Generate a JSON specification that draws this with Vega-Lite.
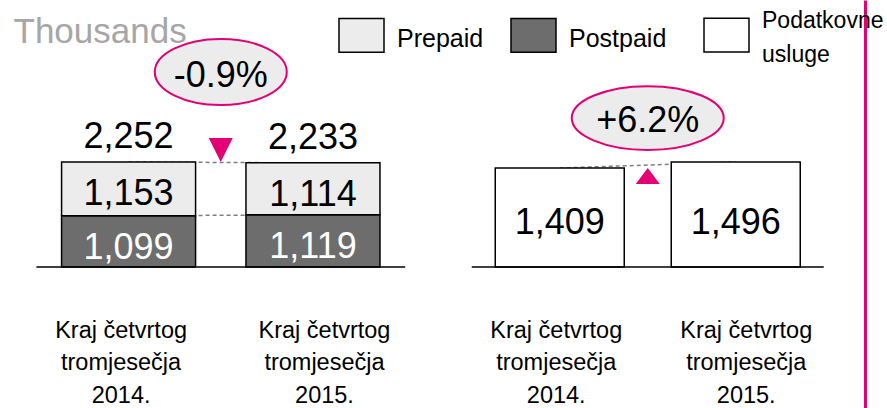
{
  "$schema": "https://vega.github.io/schema/vega-lite/v6.json",
  "width": 887,
  "height": 408,
  "autosize": {"type": "none"},
  "padding": 0,
  "background": "white",
  "config": {"view": {"stroke": null}, "font": "Liberation Sans"},
  "datasets": {
    "subs": [
      {"year": 2014, "type": "Postpaid", "value": 1099},
      {"year": 2014, "type": "Prepaid", "value": 1153},
      {"year": 2015, "type": "Postpaid", "value": 1119},
      {"year": 2015, "type": "Prepaid", "value": 1114}
    ],
    "subsTotal": [
      {"year": 2014, "total": 2252},
      {"year": 2015, "total": 2233}
    ],
    "subsChange": [
      {"year": 2014.5, "from": 2252, "to": 2233, "label": "-0.9%"}
    ],
    "dataUsers": [
      {"year": 2014, "type": "Podatkovne usluge", "value": 1409},
      {"year": 2015, "type": "Podatkovne usluge", "value": 1496}
    ],
    "dataChange": [
      {"year": 2014.5, "from": 1409, "to": 1496, "label": "+6.2%"}
    ]
  },
  "layer": [
    {
      "layer": [
        {
          "data": {"name": "subsTotal"},
          "mark": {"type": "line", "stroke": "#7f7f7f", "strokeWidth": 1.5, "strokeDash": [4, 3]},
          "encoding": {
            "x": {"field": "year", "type": "quantitative", "scale": {"domain": [2013.3298, 2018.086], "nice": false, "zero": false}, "axis": {"orient": "bottom", "offset": -141, "values": [2014, 2015], "labelExpr": "['Kraj četvrtog', 'tromjesečja', datum.value + '.']", "labelFont": "Liberation Sans", "labelFontSize": 23.5, "labelColor": "#000", "labelPadding": 51, "labelLineHeight": 32.5, "labelBaseline": "top", "labelOverlap": false, "labelFlush": false, "labelOffset": {"expr": "datum.value == 2014 ? -8 : 11"}, "domain": false, "ticks": false, "grid": false, "title": null}},
            "y": {"field": "total", "type": "quantitative", "scale": {"domain": [-3024, 5726], "nice": false, "zero": false}, "axis": {"orient": "left", "domain": false, "ticks": false, "labels": false, "grid": false, "title": "Thousands", "titleAngle": 0, "titleX": 13, "titleY": 42, "titleAlign": "left", "titleBaseline": "alphabetic", "titleFont": "Liberation Sans", "titleFontSize": 35, "titleFontWeight": "normal", "titleColor": "#a6a6a6"}}
          }
        },
        {
          "data": {"name": "subs"},
          "transform": [{"filter": "datum.type == 'Postpaid'"}],
          "mark": {"type": "line", "stroke": "#7f7f7f", "strokeWidth": 1.5, "strokeDash": [4, 3]},
          "encoding": {
            "x": {"field": "year", "type": "quantitative", "scale": {"domain": [2013.3298, 2018.086], "nice": false, "zero": false}, "axis": {"orient": "bottom", "offset": -141, "values": [2014, 2015], "labelExpr": "['Kraj četvrtog', 'tromjesečja', datum.value + '.']", "labelFont": "Liberation Sans", "labelFontSize": 23.5, "labelColor": "#000", "labelPadding": 51, "labelLineHeight": 32.5, "labelBaseline": "top", "labelOverlap": false, "labelFlush": false, "labelOffset": {"expr": "datum.value == 2014 ? -8 : 11"}, "domain": false, "ticks": false, "grid": false, "title": null}},
            "y": {"field": "value", "type": "quantitative", "scale": {"domain": [-3024, 5726], "nice": false, "zero": false}, "axis": {"orient": "left", "domain": false, "ticks": false, "labels": false, "grid": false, "title": "Thousands", "titleAngle": 0, "titleX": 13, "titleY": 42, "titleAlign": "left", "titleBaseline": "alphabetic", "titleFont": "Liberation Sans", "titleFontSize": 35, "titleFontWeight": "normal", "titleColor": "#a6a6a6"}}
          }
        },
        {
          "data": {"name": "subs"},
          "mark": {"type": "bar", "orient": "vertical", "size": 134, "stroke": "#000", "strokeWidth": 1.5},
          "encoding": {
            "x": {"field": "year", "type": "quantitative", "scale": {"domain": [2013.3298, 2018.086], "nice": false, "zero": false}, "axis": {"orient": "bottom", "offset": -141, "values": [2014, 2015], "labelExpr": "['Kraj četvrtog', 'tromjesečja', datum.value + '.']", "labelFont": "Liberation Sans", "labelFontSize": 23.5, "labelColor": "#000", "labelPadding": 51, "labelLineHeight": 32.5, "labelBaseline": "top", "labelOverlap": false, "labelFlush": false, "labelOffset": {"expr": "datum.value == 2014 ? -8 : 11"}, "domain": false, "ticks": false, "grid": false, "title": null}},
            "y": {"field": "value", "type": "quantitative", "stack": "zero", "scale": {"domain": [-3024, 5726], "nice": false, "zero": false}, "axis": {"orient": "left", "domain": false, "ticks": false, "labels": false, "grid": false, "title": "Thousands", "titleAngle": 0, "titleX": 13, "titleY": 42, "titleAlign": "left", "titleBaseline": "alphabetic", "titleFont": "Liberation Sans", "titleFontSize": 35, "titleFontWeight": "normal", "titleColor": "#a6a6a6"}},
            "order": {"field": "type", "sort": "ascending"},
            "fill": {"field": "type", "type": "nominal", "scale": {"domain": ["Prepaid", "Postpaid"], "range": ["#ececec", "#6d6d6d"]}, "legend": {"orient": "none", "legendX": 338, "legendY": 11.5, "direction": "horizontal", "title": null, "symbolType": "M -1 -0.75 L 1 -0.75 L 1 0.75 L -1 0.75 Z", "symbolSize": 2025, "symbolStrokeColor": "#000", "symbolStrokeWidth": 1.5, "symbolOpacity": 1, "labelFont": "Liberation Sans", "labelFontSize": 25, "labelColor": "#000", "labelOffset": 12, "columnPadding": 24, "padding": 0, "encode": {"labels": {"update": {"dy": {"value": 4}}}}}}
          }
        },
        {
          "data": {"name": "subs"},
          "mark": {"type": "text", "font": "Liberation Sans", "fontSize": 36, "align": "center", "baseline": "alphabetic", "dy": 43},
          "encoding": {
            "x": {"field": "year", "type": "quantitative", "scale": {"domain": [2013.3298, 2018.086], "nice": false, "zero": false}, "axis": {"orient": "bottom", "offset": -141, "values": [2014, 2015], "labelExpr": "['Kraj četvrtog', 'tromjesečja', datum.value + '.']", "labelFont": "Liberation Sans", "labelFontSize": 23.5, "labelColor": "#000", "labelPadding": 51, "labelLineHeight": 32.5, "labelBaseline": "top", "labelOverlap": false, "labelFlush": false, "labelOffset": {"expr": "datum.value == 2014 ? -8 : 11"}, "domain": false, "ticks": false, "grid": false, "title": null}},
            "y": {"field": "value", "type": "quantitative", "stack": "zero", "scale": {"domain": [-3024, 5726], "nice": false, "zero": false}, "axis": {"orient": "left", "domain": false, "ticks": false, "labels": false, "grid": false, "title": "Thousands", "titleAngle": 0, "titleX": 13, "titleY": 42, "titleAlign": "left", "titleBaseline": "alphabetic", "titleFont": "Liberation Sans", "titleFontSize": 35, "titleFontWeight": "normal", "titleColor": "#a6a6a6"}},
            "order": {"field": "type", "sort": "ascending"},
            "text": {"field": "value", "type": "quantitative", "format": ","},
            "fill": {"condition": {"test": "datum.type == 'Postpaid'", "value": "#ffffff"}, "value": "#000000"}
          }
        },
        {
          "data": {"name": "subsTotal"},
          "mark": {"type": "text", "font": "Liberation Sans", "fontSize": 36, "align": "center", "baseline": "alphabetic", "dy": -14, "fill": "#000"},
          "encoding": {
            "x": {"field": "year", "type": "quantitative", "scale": {"domain": [2013.3298, 2018.086], "nice": false, "zero": false}, "axis": {"orient": "bottom", "offset": -141, "values": [2014, 2015], "labelExpr": "['Kraj četvrtog', 'tromjesečja', datum.value + '.']", "labelFont": "Liberation Sans", "labelFontSize": 23.5, "labelColor": "#000", "labelPadding": 51, "labelLineHeight": 32.5, "labelBaseline": "top", "labelOverlap": false, "labelFlush": false, "labelOffset": {"expr": "datum.value == 2014 ? -8 : 11"}, "domain": false, "ticks": false, "grid": false, "title": null}},
            "y": {"field": "total", "type": "quantitative", "scale": {"domain": [-3024, 5726], "nice": false, "zero": false}, "axis": {"orient": "left", "domain": false, "ticks": false, "labels": false, "grid": false, "title": "Thousands", "titleAngle": 0, "titleX": 13, "titleY": 42, "titleAlign": "left", "titleBaseline": "alphabetic", "titleFont": "Liberation Sans", "titleFontSize": 35, "titleFontWeight": "normal", "titleColor": "#a6a6a6"}},
            "text": {"field": "total", "type": "quantitative", "format": ","}
          }
        },
        {
          "data": {"name": "subsChange"},
          "mark": {"type": "point", "shape": "M -1 -2 L 1 -2 L 0 0 Z", "size": 576, "filled": true, "fill": "#e20074", "opacity": 1, "strokeWidth": 0},
          "encoding": {
            "x": {"field": "year", "type": "quantitative", "scale": {"domain": [2013.3298, 2018.086], "nice": false, "zero": false}, "axis": {"orient": "bottom", "offset": -141, "values": [2014, 2015], "labelExpr": "['Kraj četvrtog', 'tromjesečja', datum.value + '.']", "labelFont": "Liberation Sans", "labelFontSize": 23.5, "labelColor": "#000", "labelPadding": 51, "labelLineHeight": 32.5, "labelBaseline": "top", "labelOverlap": false, "labelFlush": false, "labelOffset": {"expr": "datum.value == 2014 ? -8 : 11"}, "domain": false, "ticks": false, "grid": false, "title": null}},
            "y": {"field": "from", "type": "quantitative", "scale": {"domain": [-3024, 5726], "nice": false, "zero": false}, "axis": {"orient": "left", "domain": false, "ticks": false, "labels": false, "grid": false, "title": "Thousands", "titleAngle": 0, "titleX": 13, "titleY": 42, "titleAlign": "left", "titleBaseline": "alphabetic", "titleFont": "Liberation Sans", "titleFontSize": 35, "titleFontWeight": "normal", "titleColor": "#a6a6a6"}}
          }
        },
        {
          "data": {"name": "subsChange"},
          "mark": {"type": "point", "shape": "M -1 0 A 1 0.5 0 1 0 1 0 A 1 0.5 0 1 0 -1 0 Z", "size": 17424, "filled": true, "fill": "#ececec", "stroke": "#e20074", "strokeWidth": 2, "opacity": 1, "yOffset": -90},
          "encoding": {
            "x": {"field": "year", "type": "quantitative", "scale": {"domain": [2013.3298, 2018.086], "nice": false, "zero": false}, "axis": {"orient": "bottom", "offset": -141, "values": [2014, 2015], "labelExpr": "['Kraj četvrtog', 'tromjesečja', datum.value + '.']", "labelFont": "Liberation Sans", "labelFontSize": 23.5, "labelColor": "#000", "labelPadding": 51, "labelLineHeight": 32.5, "labelBaseline": "top", "labelOverlap": false, "labelFlush": false, "labelOffset": {"expr": "datum.value == 2014 ? -8 : 11"}, "domain": false, "ticks": false, "grid": false, "title": null}},
            "y": {"field": "from", "type": "quantitative", "scale": {"domain": [-3024, 5726], "nice": false, "zero": false}, "axis": {"orient": "left", "domain": false, "ticks": false, "labels": false, "grid": false, "title": "Thousands", "titleAngle": 0, "titleX": 13, "titleY": 42, "titleAlign": "left", "titleBaseline": "alphabetic", "titleFont": "Liberation Sans", "titleFontSize": 35, "titleFontWeight": "normal", "titleColor": "#a6a6a6"}}
          }
        },
        {
          "data": {"name": "subsChange"},
          "mark": {"type": "text", "font": "Liberation Sans", "fontSize": 36, "align": "center", "baseline": "alphabetic", "dy": -75, "fill": "#000"},
          "encoding": {
            "x": {"field": "year", "type": "quantitative", "scale": {"domain": [2013.3298, 2018.086], "nice": false, "zero": false}, "axis": {"orient": "bottom", "offset": -141, "values": [2014, 2015], "labelExpr": "['Kraj četvrtog', 'tromjesečja', datum.value + '.']", "labelFont": "Liberation Sans", "labelFontSize": 23.5, "labelColor": "#000", "labelPadding": 51, "labelLineHeight": 32.5, "labelBaseline": "top", "labelOverlap": false, "labelFlush": false, "labelOffset": {"expr": "datum.value == 2014 ? -8 : 11"}, "domain": false, "ticks": false, "grid": false, "title": null}},
            "y": {"field": "from", "type": "quantitative", "scale": {"domain": [-3024, 5726], "nice": false, "zero": false}, "axis": {"orient": "left", "domain": false, "ticks": false, "labels": false, "grid": false, "title": "Thousands", "titleAngle": 0, "titleX": 13, "titleY": 42, "titleAlign": "left", "titleBaseline": "alphabetic", "titleFont": "Liberation Sans", "titleFontSize": 35, "titleFontWeight": "normal", "titleColor": "#a6a6a6"}},
            "text": {"field": "label", "type": "nominal"}
          }
        },
        {
          "data": {"values": [{}]},
          "mark": {"type": "rule", "stroke": "#000", "strokeWidth": 1.5},
          "encoding": {
            "x": {"datum": 2013.5, "type": "quantitative", "scale": {"domain": [2013.3298, 2018.086], "nice": false, "zero": false}, "axis": {"orient": "bottom", "offset": -141, "values": [2014, 2015], "labelExpr": "['Kraj četvrtog', 'tromjesečja', datum.value + '.']", "labelFont": "Liberation Sans", "labelFontSize": 23.5, "labelColor": "#000", "labelPadding": 51, "labelLineHeight": 32.5, "labelBaseline": "top", "labelOverlap": false, "labelFlush": false, "labelOffset": {"expr": "datum.value == 2014 ? -8 : 11"}, "domain": false, "ticks": false, "grid": false, "title": null}},
            "x2": {"datum": 2015.5},
            "y": {"datum": 0, "type": "quantitative", "scale": {"domain": [-3024, 5726], "nice": false, "zero": false}, "axis": {"orient": "left", "domain": false, "ticks": false, "labels": false, "grid": false, "title": "Thousands", "titleAngle": 0, "titleX": 13, "titleY": 42, "titleAlign": "left", "titleBaseline": "alphabetic", "titleFont": "Liberation Sans", "titleFontSize": 35, "titleFontWeight": "normal", "titleColor": "#a6a6a6"}}
          }
        }
      ]
    },
    {
      "layer": [
        {
          "data": {"name": "dataUsers"},
          "mark": {"type": "line", "stroke": "#7f7f7f", "strokeWidth": 1.5, "strokeDash": [4, 3]},
          "encoding": {
            "x": {"field": "year", "type": "quantitative", "scale": {"domain": [2010.848, 2015.831], "nice": false, "zero": false}, "axis": {"orient": "bottom", "offset": -141, "values": [2014, 2015], "labelExpr": "['Kraj četvrtog', 'tromjesečja', datum.value + '.']", "labelFont": "Liberation Sans", "labelFontSize": 23.5, "labelColor": "#000", "labelPadding": 51, "labelLineHeight": 32.5, "labelBaseline": "top", "labelOverlap": false, "labelFlush": false, "labelOffset": {"expr": "datum.value == 2014 ? -4 : 10"}, "domain": false, "ticks": false, "grid": false, "title": null}},
            "y": {"field": "value", "type": "quantitative", "scale": {"domain": [-2009, 3803], "nice": false, "zero": false}, "axis": {"orient": "right", "offset": -22, "domain": true, "domainColor": "#e20074", "domainWidth": 3, "ticks": false, "labels": false, "grid": false, "title": null}}
          }
        },
        {
          "data": {"name": "dataUsers"},
          "mark": {"type": "bar", "orient": "vertical", "size": 129, "stroke": "#000", "strokeWidth": 1.5},
          "encoding": {
            "x": {"field": "year", "type": "quantitative", "scale": {"domain": [2010.848, 2015.831], "nice": false, "zero": false}, "axis": {"orient": "bottom", "offset": -141, "values": [2014, 2015], "labelExpr": "['Kraj četvrtog', 'tromjesečja', datum.value + '.']", "labelFont": "Liberation Sans", "labelFontSize": 23.5, "labelColor": "#000", "labelPadding": 51, "labelLineHeight": 32.5, "labelBaseline": "top", "labelOverlap": false, "labelFlush": false, "labelOffset": {"expr": "datum.value == 2014 ? -4 : 10"}, "domain": false, "ticks": false, "grid": false, "title": null}},
            "y": {"field": "value", "type": "quantitative", "stack": "zero", "scale": {"domain": [-2009, 3803], "nice": false, "zero": false}, "axis": {"orient": "right", "offset": -22, "domain": true, "domainColor": "#e20074", "domainWidth": 3, "ticks": false, "labels": false, "grid": false, "title": null}},
            "fill": {"field": "type", "type": "nominal", "scale": {"domain": ["Podatkovne usluge"], "range": ["#ffffff"]}, "legend": {"orient": "none", "legendX": 703, "legendY": 11.5, "direction": "horizontal", "title": null, "symbolType": "M -1 -0.75 L 1 -0.75 L 1 0.75 L -1 0.75 Z", "symbolSize": 2025, "symbolStrokeColor": "#000", "symbolStrokeWidth": 1.5, "symbolOpacity": 1, "labelFont": "Liberation Sans", "labelFontSize": 23, "labelColor": "#000", "labelOffset": 12, "padding": 0, "labelExpr": "split(datum.label, ' ')", "encode": {"labels": {"update": {"lineHeight": {"value": 34}, "dy": {"value": -14}}}}}}
          }
        },
        {
          "data": {"name": "dataUsers"},
          "mark": {"type": "text", "font": "Liberation Sans", "fontSize": 36, "align": "center", "baseline": "alphabetic", "dy": -33, "fill": "#000"},
          "encoding": {
            "x": {"field": "year", "type": "quantitative", "scale": {"domain": [2010.848, 2015.831], "nice": false, "zero": false}, "axis": {"orient": "bottom", "offset": -141, "values": [2014, 2015], "labelExpr": "['Kraj četvrtog', 'tromjesečja', datum.value + '.']", "labelFont": "Liberation Sans", "labelFontSize": 23.5, "labelColor": "#000", "labelPadding": 51, "labelLineHeight": 32.5, "labelBaseline": "top", "labelOverlap": false, "labelFlush": false, "labelOffset": {"expr": "datum.value == 2014 ? -4 : 10"}, "domain": false, "ticks": false, "grid": false, "title": null}},
            "y": {"datum": 0, "type": "quantitative", "scale": {"domain": [-2009, 3803], "nice": false, "zero": false}, "axis": {"orient": "right", "offset": -22, "domain": true, "domainColor": "#e20074", "domainWidth": 3, "ticks": false, "labels": false, "grid": false, "title": null}},
            "text": {"field": "value", "type": "quantitative", "format": ","}
          }
        },
        {
          "data": {"name": "dataChange"},
          "mark": {"type": "point", "shape": "M 0 0 L 1 1.33 L -1 1.33 Z", "size": 576, "filled": true, "fill": "#e20074", "opacity": 1, "strokeWidth": 0},
          "encoding": {
            "x": {"field": "year", "type": "quantitative", "scale": {"domain": [2010.848, 2015.831], "nice": false, "zero": false}, "axis": {"orient": "bottom", "offset": -141, "values": [2014, 2015], "labelExpr": "['Kraj četvrtog', 'tromjesečja', datum.value + '.']", "labelFont": "Liberation Sans", "labelFontSize": 23.5, "labelColor": "#000", "labelPadding": 51, "labelLineHeight": 32.5, "labelBaseline": "top", "labelOverlap": false, "labelFlush": false, "labelOffset": {"expr": "datum.value == 2014 ? -4 : 10"}, "domain": false, "ticks": false, "grid": false, "title": null}},
            "y": {"field": "from", "type": "quantitative", "scale": {"domain": [-2009, 3803], "nice": false, "zero": false}, "axis": {"orient": "right", "offset": -22, "domain": true, "domainColor": "#e20074", "domainWidth": 3, "ticks": false, "labels": false, "grid": false, "title": null}}
          }
        },
        {
          "data": {"name": "dataChange"},
          "mark": {"type": "point", "shape": "M -1 0 A 1 0.42 0 1 0 1 0 A 1 0.42 0 1 0 -1 0 Z", "size": 23104, "filled": true, "fill": "#ececec", "stroke": "#e20074", "strokeWidth": 2, "opacity": 1, "yOffset": -50},
          "encoding": {
            "x": {"field": "year", "type": "quantitative", "scale": {"domain": [2010.848, 2015.831], "nice": false, "zero": false}, "axis": {"orient": "bottom", "offset": -141, "values": [2014, 2015], "labelExpr": "['Kraj četvrtog', 'tromjesečja', datum.value + '.']", "labelFont": "Liberation Sans", "labelFontSize": 23.5, "labelColor": "#000", "labelPadding": 51, "labelLineHeight": 32.5, "labelBaseline": "top", "labelOverlap": false, "labelFlush": false, "labelOffset": {"expr": "datum.value == 2014 ? -4 : 10"}, "domain": false, "ticks": false, "grid": false, "title": null}},
            "y": {"field": "from", "type": "quantitative", "scale": {"domain": [-2009, 3803], "nice": false, "zero": false}, "axis": {"orient": "right", "offset": -22, "domain": true, "domainColor": "#e20074", "domainWidth": 3, "ticks": false, "labels": false, "grid": false, "title": null}}
          }
        },
        {
          "data": {"name": "dataChange"},
          "mark": {"type": "text", "font": "Liberation Sans", "fontSize": 36, "align": "center", "baseline": "alphabetic", "dy": -36, "fill": "#000"},
          "encoding": {
            "x": {"field": "year", "type": "quantitative", "scale": {"domain": [2010.848, 2015.831], "nice": false, "zero": false}, "axis": {"orient": "bottom", "offset": -141, "values": [2014, 2015], "labelExpr": "['Kraj četvrtog', 'tromjesečja', datum.value + '.']", "labelFont": "Liberation Sans", "labelFontSize": 23.5, "labelColor": "#000", "labelPadding": 51, "labelLineHeight": 32.5, "labelBaseline": "top", "labelOverlap": false, "labelFlush": false, "labelOffset": {"expr": "datum.value == 2014 ? -4 : 10"}, "domain": false, "ticks": false, "grid": false, "title": null}},
            "y": {"field": "from", "type": "quantitative", "scale": {"domain": [-2009, 3803], "nice": false, "zero": false}, "axis": {"orient": "right", "offset": -22, "domain": true, "domainColor": "#e20074", "domainWidth": 3, "ticks": false, "labels": false, "grid": false, "title": null}},
            "text": {"field": "label", "type": "nominal"}
          }
        },
        {
          "data": {"values": [{}]},
          "mark": {"type": "rule", "stroke": "#000", "strokeWidth": 1.5},
          "encoding": {
            "x": {"datum": 2013.5, "type": "quantitative", "scale": {"domain": [2010.848, 2015.831], "nice": false, "zero": false}, "axis": {"orient": "bottom", "offset": -141, "values": [2014, 2015], "labelExpr": "['Kraj četvrtog', 'tromjesečja', datum.value + '.']", "labelFont": "Liberation Sans", "labelFontSize": 23.5, "labelColor": "#000", "labelPadding": 51, "labelLineHeight": 32.5, "labelBaseline": "top", "labelOverlap": false, "labelFlush": false, "labelOffset": {"expr": "datum.value == 2014 ? -4 : 10"}, "domain": false, "ticks": false, "grid": false, "title": null}},
            "x2": {"datum": 2015.5},
            "y": {"datum": 0, "type": "quantitative", "scale": {"domain": [-2009, 3803], "nice": false, "zero": false}, "axis": {"orient": "right", "offset": -22, "domain": true, "domainColor": "#e20074", "domainWidth": 3, "ticks": false, "labels": false, "grid": false, "title": null}}
          }
        }
      ]
    }
  ],
  "resolve": {
    "scale": {"x": "independent", "y": "independent", "fill": "independent"},
    "axis": {"x": "independent", "y": "independent"},
    "legend": {"fill": "independent"}
  }
}
